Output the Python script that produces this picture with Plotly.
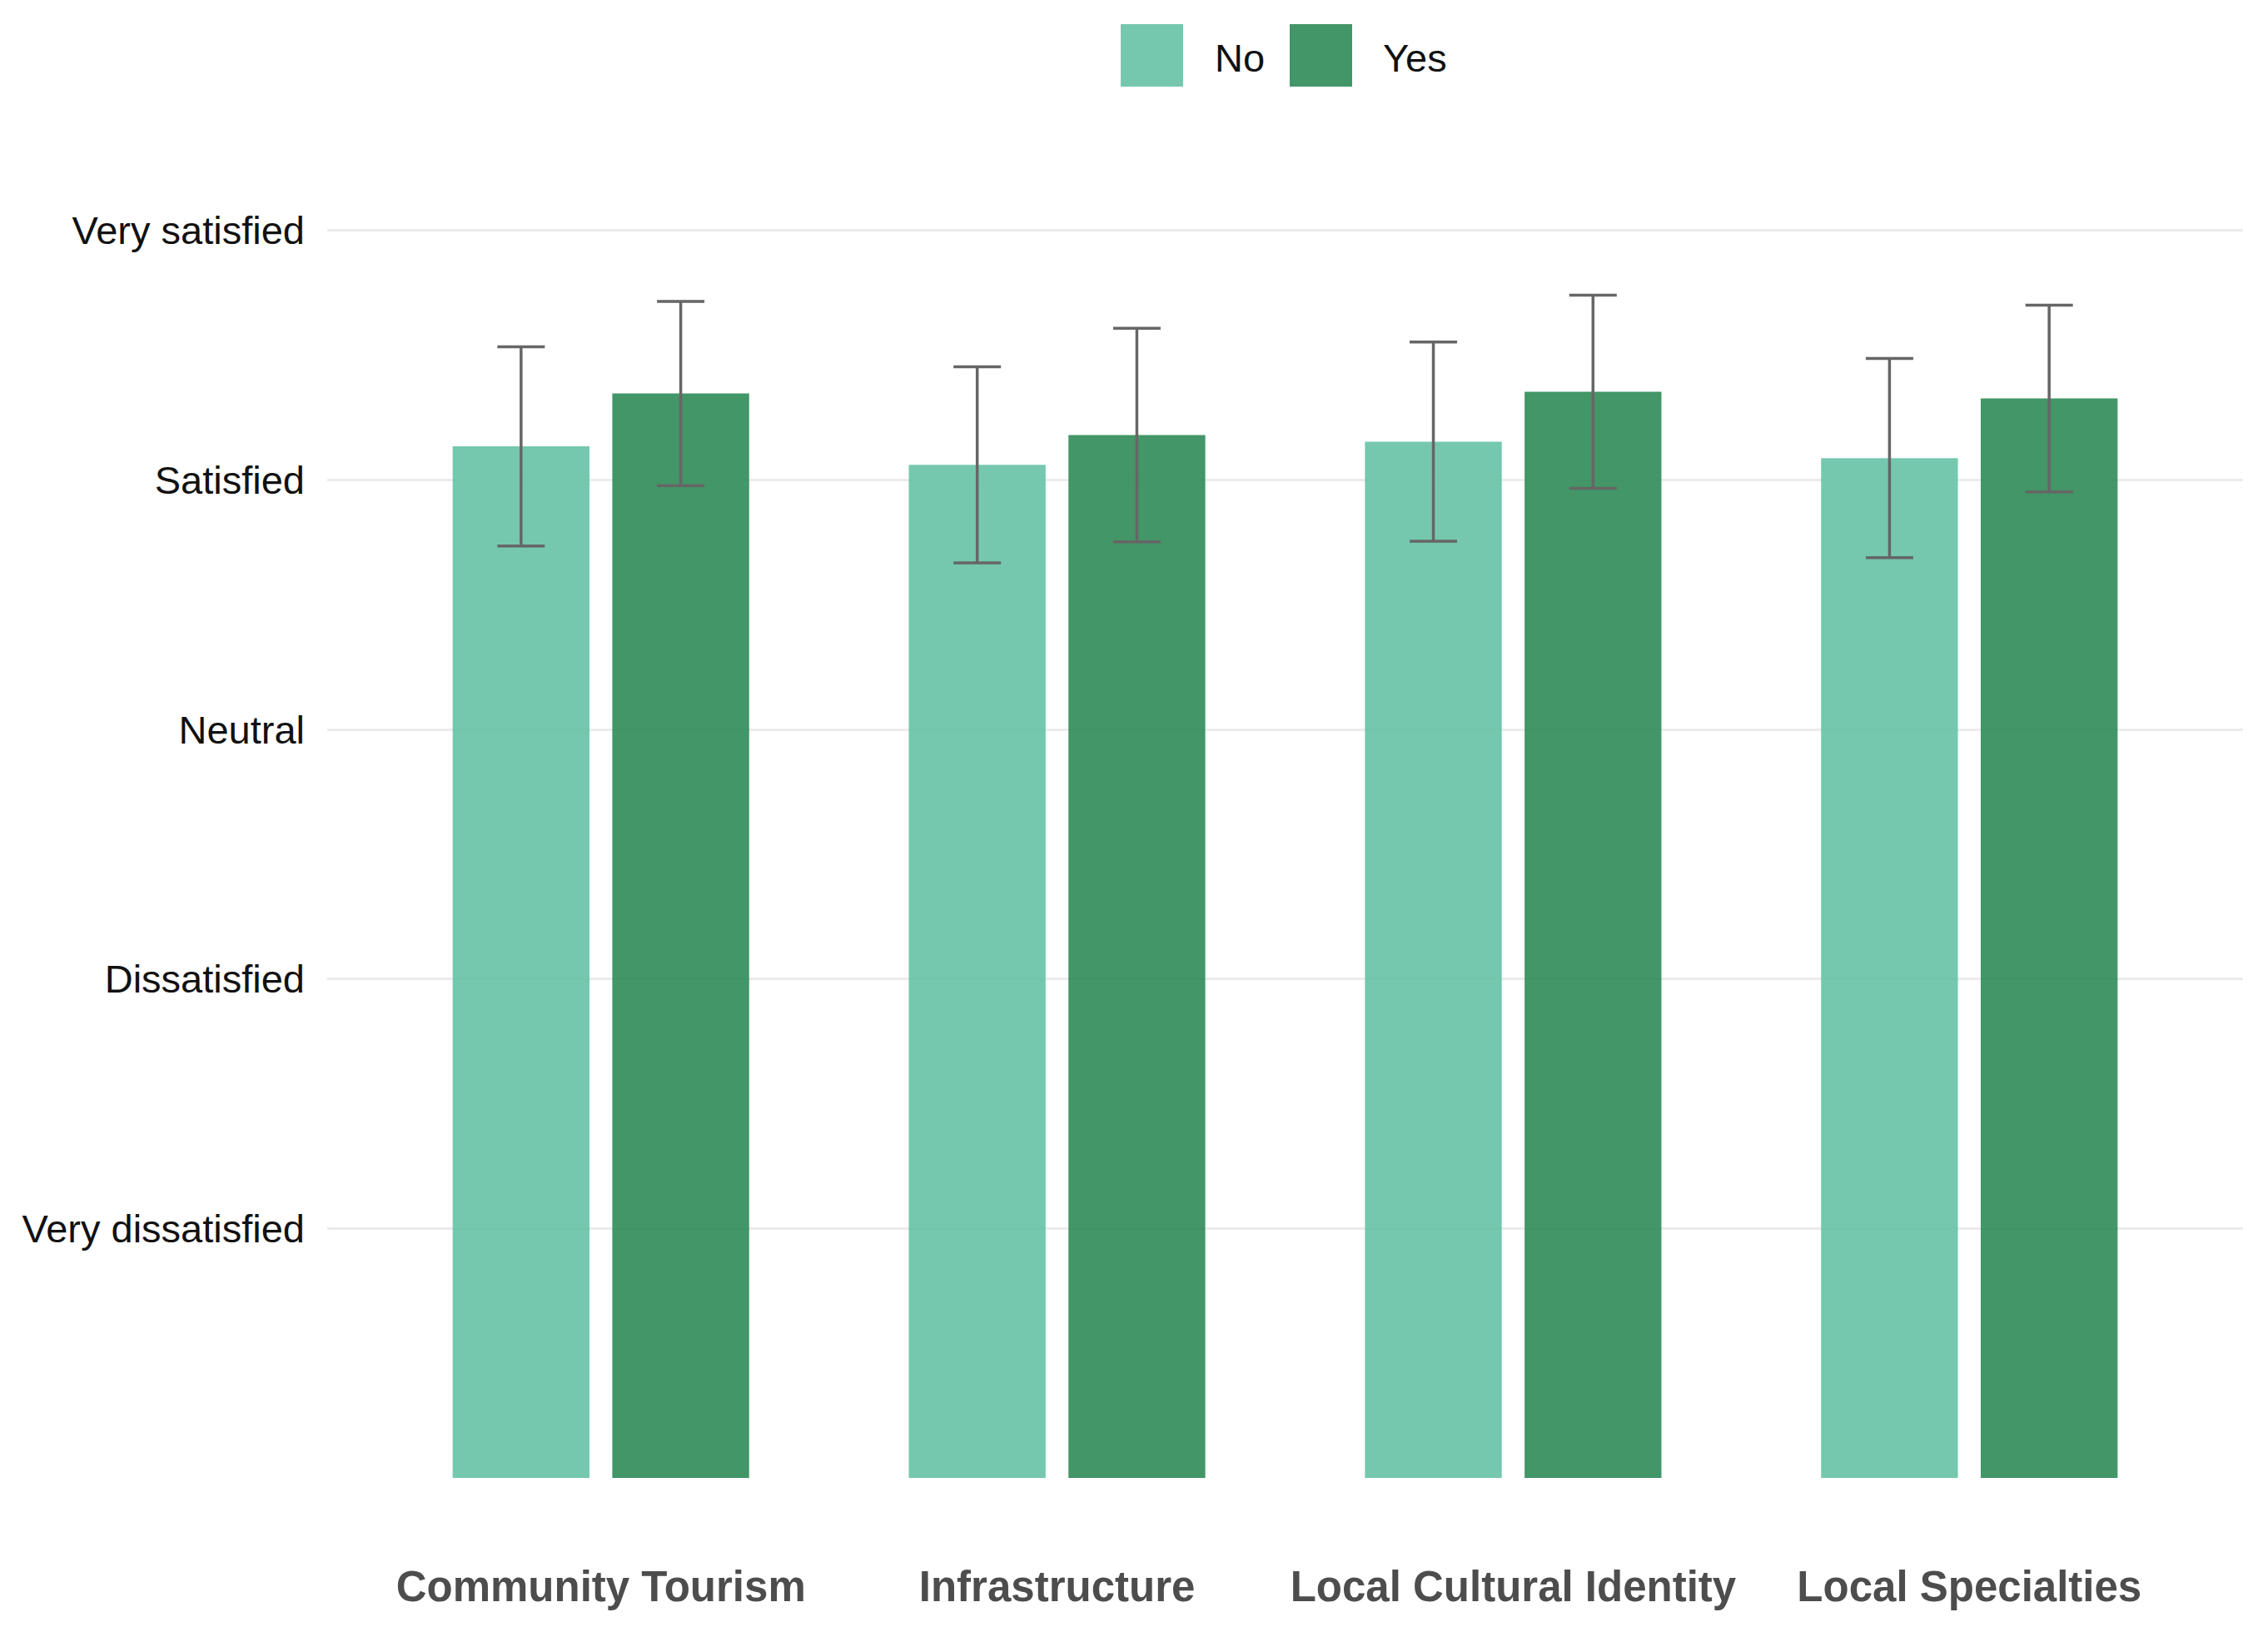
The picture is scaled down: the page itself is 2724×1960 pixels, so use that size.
import plotly.graph_objects as go

categories = ["Community Tourism", "Infrastructure", "Local Cultural Identity", "Local Specialties"]
groups = ["No", "Yes"]
mean_no = [4.135, 4.061, 4.154, 4.088]
err_no = [0.399, 0.393, 0.399, 0.399]
mean_yes = [4.347, 4.180, 4.354, 4.327]
err_yes = [0.369, 0.428, 0.387, 0.374]
tick_values = [1, 2, 3, 4, 5]
tick_labels = ["Very dissatisfied", "Dissatisfied", "Neutral", "Satisfied", "Very satisfied"]

colors = {"No": "rgba(102,194,165,0.9)", "Yes": "rgba(46,139,87,0.9)"}
FONT = "Liberation Sans, Arial, sans-serif"

# page body has an 8px default margin; compensate so the panel lands where the reference has it
OFF = 8
W, H = 2724 - OFF, 1960 - OFF
PANEL_LEFT, PANEL_RIGHT, PANEL_TOP, PANEL_BOTTOM = 393, 2694, 202, 1850
L, T = PANEL_LEFT - OFF, PANEL_TOP - OFF
R = W + OFF - PANEL_RIGHT
B = H + OFF - PANEL_BOTTOM

fig = go.Figure()
for name, means, errs in [("No", mean_no, err_no), ("Yes", mean_yes, err_yes)]:
    fig.add_trace(go.Bar(
        x=categories, y=means, name=name,
        marker=dict(color=colors[name], line=dict(width=0)),
        error_y=dict(type="data", array=errs, visible=True,
                     color="#666666", thickness=3.5, width=28.5),
        showlegend=False,
    ))

fig.update_layout(
    width=W, height=H,
    margin=dict(l=L, r=R, t=T, b=B, pad=0),
    paper_bgcolor="white", plot_bgcolor="white",
    barmode="group", bargap=0.3, bargroupgap=0.1429,
    font=dict(family=FONT),
    xaxis=dict(
        type="category", range=[-0.6, 3.6],
        showgrid=False, zeroline=False, showline=False, ticks="",
        tickfont=dict(family=FONT, size=51, color="#4D4D4D", weight="bold"),
        ticklabelstandoff=21,
    ),
    yaxis=dict(
        range=[-0.25, 5.25], tickvals=tick_values, ticktext=tick_labels,
        showgrid=True, gridcolor="#EBEBEB", gridwidth=3,
        zeroline=False, showline=False, ticks="",
        tickfont=dict(family=FONT, size=47, color="#111111"),
        ticklabelstandoff=26,
    ),
)

# manual legend (top); positions in page pixels
pw = W - L - R
ph = H - T - B
def px(xp):
    return (xp - OFF - L) / pw
def py(yp):
    return (H - B - (yp - OFF)) / ph

legend_items = [("No", 1346, 1457), ("Yes", 1549, 1659)]
for name, sx, tx in legend_items:
    fig.add_shape(type="rect", xref="paper", yref="paper",
                  x0=px(sx), x1=px(sx + 75), y0=py(104), y1=py(29),
                  fillcolor=colors[name], line=dict(width=0))
    fig.add_annotation(xref="paper", yref="paper", x=px(tx), y=py(70),
                       text=name, showarrow=False, xanchor="left", yanchor="middle",
                       font=dict(family=FONT, size=47, color="#111111"))

fig.write_html("out.html")
